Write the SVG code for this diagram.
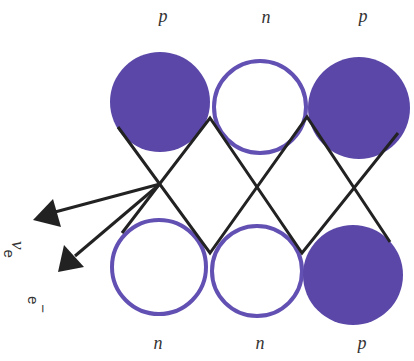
<svg xmlns="http://www.w3.org/2000/svg" width="414" height="361" viewBox="0 0 414 361">
<defs>
<style>
.full{fill:#5b47a8;}
.hollow{fill:#fff;stroke:#6350b3;stroke-width:4;}
.q{font-family:"Liberation Serif",serif;font-style:italic;font-size:18px;fill:#333;text-anchor:middle;}
.lbl{font-family:"Liberation Sans",sans-serif;font-size:15px;fill:#333;}
.zz{fill:none;stroke:#222;stroke-width:3;stroke-linejoin:miter;}
.ar{stroke:#222;stroke-width:3;}
</style>
</defs>
<rect width="414" height="361" fill="#fff"/>
<g id="top-d1"><circle class="full" cx="160" cy="102" r="50"/><text class="q" transform="translate(163,13) rotate(180)">d</text></g>
<g id="top-u"><circle class="hollow" cx="260" cy="107" r="46"/><text class="q" transform="translate(266,14) rotate(180)">u</text></g>
<g id="top-d2"><circle class="full" cx="359" cy="108" r="51"/><text class="q" transform="translate(363,13) rotate(180)">d</text></g>
<g id="bot-u1"><circle class="hollow" cx="159" cy="267" r="47"/><text class="q" transform="translate(158,340) rotate(180)">u</text></g>
<g id="bot-u2"><circle class="hollow" cx="257" cy="271" r="45"/><text class="q" transform="translate(260,340) rotate(180)">u</text></g>
<g id="bot-d"><circle class="full" cx="353" cy="275" r="50"/><text class="q" transform="translate(362,340) rotate(180)">d</text></g>
<g id="connectors">
<polyline class="zz" points="118,127 210,253 307,117 390,242"/>
<polyline class="zz" points="122,233 210,118 302,253 398,133"/>
<line class="ar" x1="160" y1="184" x2="55" y2="212"/>
<path d="M33,220 L53,199 L61,227 z" fill="#222"/>
<line class="ar" x1="160" y1="184" x2="75" y2="256"/>
<path d="M58,272 L64,245 L84,267 z" fill="#222"/>
</g>
<g id="labels">
<text class="lbl" transform="translate(12,241) rotate(90)"><tspan font-family="Liberation Serif,serif" font-style="italic" font-size="19">ν</tspan><tspan dy="8" font-size="15">e</tspan></text>
<text class="lbl" transform="translate(28,296) rotate(90)">e<tspan dy="-10" font-size="15">−</tspan></text>
</g>
</svg>
